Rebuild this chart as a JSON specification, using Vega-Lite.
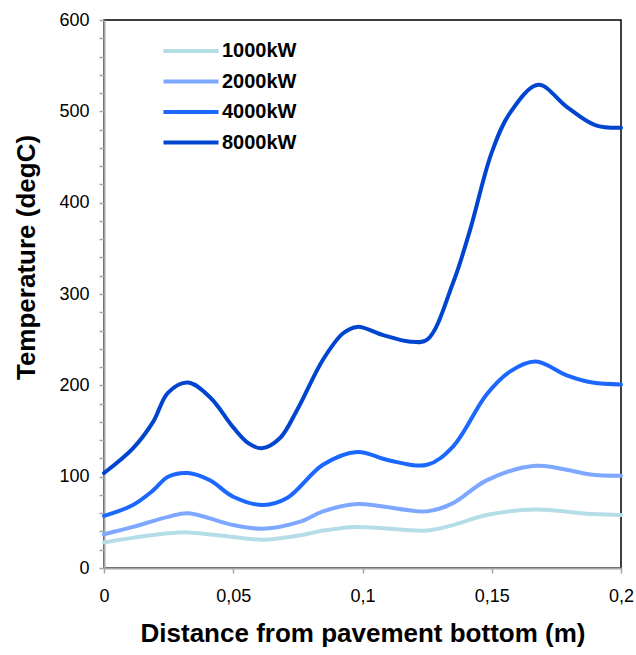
{
  "$schema": "https://vega.github.io/schema/vega-lite/v6.json",
  "width": 517,
  "height": 548,
  "autosize": "none",
  "padding": {"left": 104, "top": 20, "right": 15, "bottom": 87},
  "background": "white",
  "config": {
    "view": {"stroke": "black", "strokeWidth": 1.5},
    "font": "Liberation Sans, Arial"
  },
  "data": {
    "values": [
      {"series": "1000kW", "x": 0, "y": 28},
      {"series": "1000kW", "x": 0.0112, "y": 33},
      {"series": "1000kW", "x": 0.0248, "y": 38},
      {"series": "1000kW", "x": 0.0325, "y": 39},
      {"series": "1000kW", "x": 0.05, "y": 34},
      {"series": "1000kW", "x": 0.0615, "y": 31},
      {"series": "1000kW", "x": 0.0762, "y": 36},
      {"series": "1000kW", "x": 0.0847, "y": 41},
      {"series": "1000kW", "x": 0.098, "y": 45},
      {"series": "1000kW", "x": 0.125, "y": 41},
      {"series": "1000kW", "x": 0.135, "y": 47},
      {"series": "1000kW", "x": 0.148, "y": 58},
      {"series": "1000kW", "x": 0.167, "y": 64},
      {"series": "1000kW", "x": 0.189, "y": 59},
      {"series": "1000kW", "x": 0.2, "y": 58},
      {"series": "2000kW", "x": 0, "y": 37},
      {"series": "2000kW", "x": 0.0112, "y": 45},
      {"series": "2000kW", "x": 0.0248, "y": 56},
      {"series": "2000kW", "x": 0.0325, "y": 60},
      {"series": "2000kW", "x": 0.05, "y": 47},
      {"series": "2000kW", "x": 0.0615, "y": 43},
      {"series": "2000kW", "x": 0.0762, "y": 51},
      {"series": "2000kW", "x": 0.0847, "y": 62},
      {"series": "2000kW", "x": 0.098, "y": 70},
      {"series": "2000kW", "x": 0.125, "y": 62},
      {"series": "2000kW", "x": 0.135, "y": 71},
      {"series": "2000kW", "x": 0.148, "y": 96},
      {"series": "2000kW", "x": 0.167, "y": 112},
      {"series": "2000kW", "x": 0.189, "y": 102},
      {"series": "2000kW", "x": 0.2, "y": 101},
      {"series": "4000kW", "x": 0, "y": 57},
      {"series": "4000kW", "x": 0.0112, "y": 69},
      {"series": "4000kW", "x": 0.019, "y": 85},
      {"series": "4000kW", "x": 0.0248, "y": 100},
      {"series": "4000kW", "x": 0.0325, "y": 104},
      {"series": "4000kW", "x": 0.041, "y": 96},
      {"series": "4000kW", "x": 0.05, "y": 78},
      {"series": "4000kW", "x": 0.0615, "y": 69},
      {"series": "4000kW", "x": 0.071, "y": 77},
      {"series": "4000kW", "x": 0.0847, "y": 113},
      {"series": "4000kW", "x": 0.098, "y": 127},
      {"series": "4000kW", "x": 0.11, "y": 118},
      {"series": "4000kW", "x": 0.125, "y": 113},
      {"series": "4000kW", "x": 0.135, "y": 133},
      {"series": "4000kW", "x": 0.148, "y": 190},
      {"series": "4000kW", "x": 0.157, "y": 215},
      {"series": "4000kW", "x": 0.167, "y": 226},
      {"series": "4000kW", "x": 0.179, "y": 211},
      {"series": "4000kW", "x": 0.189, "y": 203},
      {"series": "4000kW", "x": 0.2, "y": 201},
      {"series": "8000kW", "x": 0, "y": 104},
      {"series": "8000kW", "x": 0.0112, "y": 131},
      {"series": "8000kW", "x": 0.019, "y": 160},
      {"series": "8000kW", "x": 0.0248, "y": 192},
      {"series": "8000kW", "x": 0.0325, "y": 203},
      {"series": "8000kW", "x": 0.041, "y": 187},
      {"series": "8000kW", "x": 0.05, "y": 154},
      {"series": "8000kW", "x": 0.0557, "y": 137},
      {"series": "8000kW", "x": 0.061, "y": 131},
      {"series": "8000kW", "x": 0.068, "y": 142},
      {"series": "8000kW", "x": 0.0747, "y": 173},
      {"series": "8000kW", "x": 0.0847, "y": 228},
      {"series": "8000kW", "x": 0.0925, "y": 257},
      {"series": "8000kW", "x": 0.098, "y": 264},
      {"series": "8000kW", "x": 0.108, "y": 255},
      {"series": "8000kW", "x": 0.118, "y": 248},
      {"series": "8000kW", "x": 0.125, "y": 250},
      {"series": "8000kW", "x": 0.135, "y": 312},
      {"series": "8000kW", "x": 0.1416, "y": 370},
      {"series": "8000kW", "x": 0.15, "y": 455},
      {"series": "8000kW", "x": 0.157, "y": 498},
      {"series": "8000kW", "x": 0.168, "y": 529},
      {"series": "8000kW", "x": 0.179, "y": 505},
      {"series": "8000kW", "x": 0.19, "y": 485},
      {"series": "8000kW", "x": 0.2, "y": 482}
    ]
  },
  "mark": {"type": "line", "interpolate": "catmull-rom", "strokeWidth": 4, "strokeCap": "round", "strokeJoin": "round"},
  "encoding": {
    "x": {
      "field": "x",
      "type": "quantitative",
      "scale": {"domain": [0, 0.2], "nice": false, "zero": false},
      "axis": {
        "title": "Distance from pavement bottom (m)",
        "values": [0, 0.05, 0.1, 0.15, 0.2],
        "labelExpr": "replace(toString(datum.value), '.', ',')",
        "grid": false,
        "domainColor": "#a6a6a6",
        "domainWidth": 2,
        "tickColor": "#a6a6a6",
        "tickWidth": 1.5,
        "tickSize": 5,
        "labelFontSize": 18,
        "labelColor": "black",
        "labelPadding": 14,
        "labelFlush": false,
        "titleFontSize": 26,
        "titleFontWeight": "bold",
        "titleColor": "black",
        "titlePadding": 15
      }
    },
    "y": {
      "field": "y",
      "type": "quantitative",
      "scale": {"domain": [0, 600], "nice": false},
      "axis": {
        "title": "Temperature (degC)",
        "values": [0, 20, 40, 60, 80, 100, 120, 140, 160, 180, 200, 220, 240, 260, 280, 300, 320, 340, 360, 380, 400, 420, 440, 460, 480, 500, 520, 540, 560, 580, 600],
        "labelExpr": "datum.value % 100 == 0 ? datum.label : ''",
        "grid": false,
        "domainColor": "#a6a6a6",
        "domainWidth": 2,
        "tickColor": "#a6a6a6",
        "tickWidth": 1.5,
        "tickSize": 5,
        "labelFontSize": 18,
        "labelColor": "black",
        "labelPadding": 10,
        "titleFontSize": 26,
        "titleFontWeight": "bold",
        "titleColor": "black",
        "titleX": -78,
        "titleY": 237,
        "titleBaseline": "middle"
      }
    },
    "color": {
      "field": "series",
      "type": "nominal",
      "scale": {
        "domain": ["1000kW", "2000kW", "4000kW", "8000kW"],
        "range": ["#b4dde8", "#7ea8ff", "#1c68ff", "#0045d0"]
      },
      "legend": {
        "title": null,
        "orient": "none",
        "legendX": 71,
        "legendY": 15,
        "symbolType": "M-2,0H2",
        "symbolSize": 756,
        "symbolStrokeWidth": 4,
        "labelFontSize": 20,
        "labelFontWeight": "bold",
        "labelColor": "black",
        "labelOffset": 15,
        "rowPadding": 4.5
      }
    }
  }
}
